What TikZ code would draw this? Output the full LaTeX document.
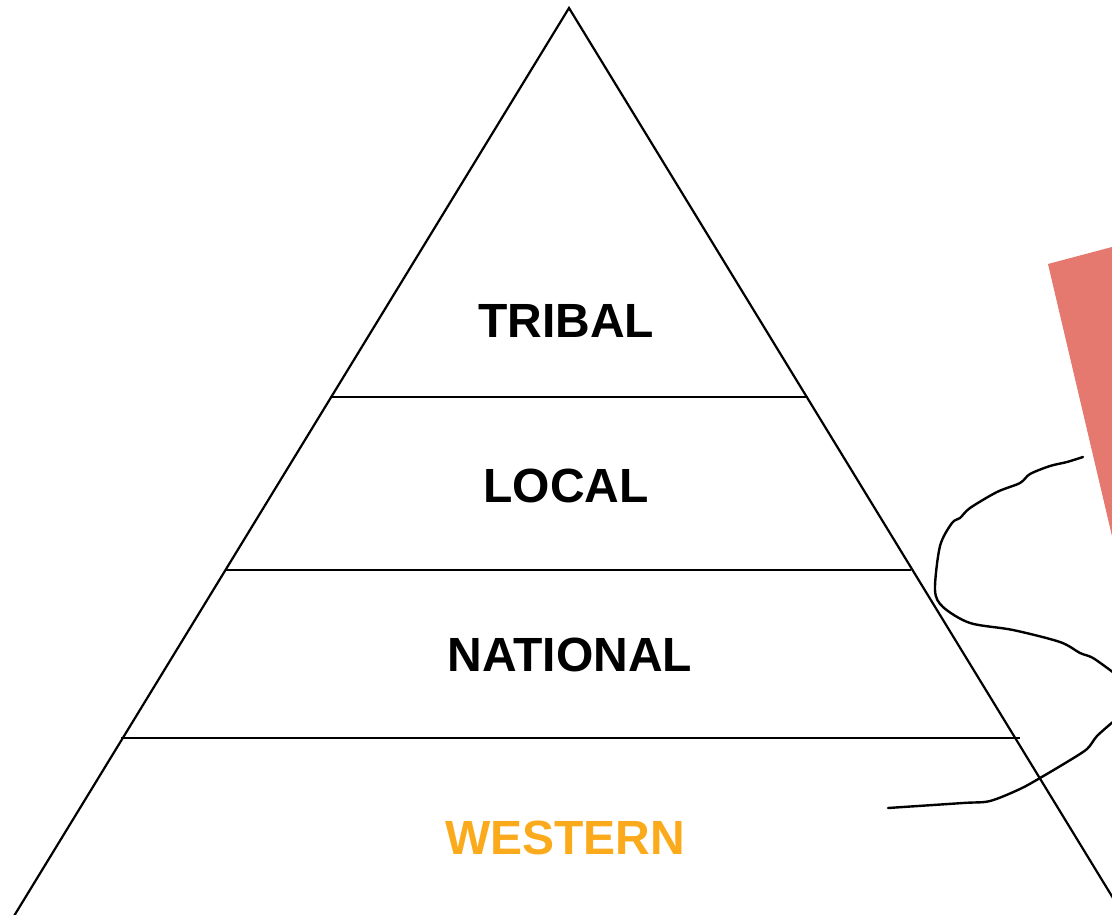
\documentclass[tikz,border=0pt]{standalone}
\usepackage{fontspec}
\setmainfont{Liberation Sans}
\definecolor{salmon}{HTML}{E5786F}
\definecolor{tierorange}{HTML}{FBAA1C}
\begin{document}
\begin{tikzpicture}[x=1pt,y=-1pt,
  tier/.style={font=\fontsize{48}{48}\selectfont\bfseries, inner sep=0pt, anchor=center},
  edge/.style={line width=2.2pt, black},
  scribble/.style={line width=2.4pt, black, line join=round, line cap=round}]
\useasboundingbox (0,0) rectangle (1112,915);
\clip (0,0) rectangle (1112,915);

% red sheet on the right
\fill[salmon] (1048,264) -- (1112,247) -- (1112,536) -- cycle;

% pyramid outline
\coordinate (apex) at (569,8);
\coordinate (bl) at (14,916);
\coordinate (br) at (1124,916);
\draw[edge, line join=miter] (bl) -- (apex) -- (br);

% tier dividers
\draw[edge] (330,397) -- (808,397);
\draw[edge] (225,570) -- (911,570);
\draw[edge] (121,738) -- (1020,738);

% tier labels
\node[tier] (tribal) at (566,321) {TRIBAL};
\node[tier] (local) at (566,486) {LOCAL};
\node[tier] (national) at (570,655) {NATIONAL};
\node[tier, text=tierorange] (western) at (565,838) {WESTERN};

% hand-drawn loop
\draw[scribble] plot[smooth, tension=0.5] coordinates {
  (1083,457) (1067,462) (1050,466) (1030,474) (1020,483) (997,492)
  (970,508) (960,518) (952,523) (940,546) (935,590) (943,607)
  (970,623) (1013,630) (1060,642) (1080,653) (1093,658) (1114,673)};
\draw[scribble] plot[smooth, tension=0.5] coordinates {
  (1114,721) (1097,736) (1087,749) (1067,762) (1040,778) (1020,789)
  (990,801) (963,803) (888,808)};
\end{tikzpicture}
\end{document}
